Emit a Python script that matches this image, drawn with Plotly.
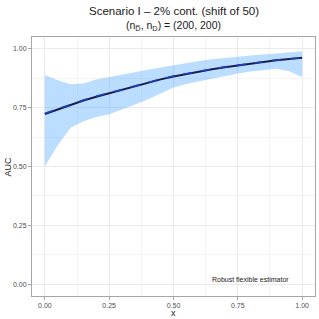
import plotly.graph_objects as go

x_vals = [0.0, 0.05, 0.1, 0.15, 0.2, 0.25, 0.3, 0.35, 0.4, 0.45, 0.5,
          0.55, 0.6, 0.65, 0.7, 0.75, 0.8, 0.85, 0.9, 0.95, 1.0]
auc_mean = [0.723, 0.743, 0.762, 0.780, 0.796, 0.811, 0.827, 0.842, 0.856, 0.870, 0.882,
            0.893, 0.903, 0.913, 0.922, 0.930, 0.938, 0.945, 0.951, 0.957, 0.962]
auc_true = [0.725, 0.745, 0.764, 0.782, 0.798, 0.813, 0.829, 0.844, 0.858, 0.871, 0.884,
            0.895, 0.905, 0.914, 0.923, 0.931, 0.939, 0.946, 0.952, 0.957, 0.962]
band_lower = [0.500, 0.590, 0.665, 0.692, 0.710, 0.722, 0.742, 0.762, 0.785, 0.810, 0.835,
              0.850, 0.862, 0.874, 0.884, 0.895, 0.904, 0.911, 0.915, 0.905, 0.880]
band_upper = [0.889, 0.866, 0.849, 0.853, 0.870, 0.881, 0.892, 0.902, 0.911, 0.920, 0.930,
              0.940, 0.948, 0.955, 0.962, 0.966, 0.971, 0.975, 0.979, 0.984, 0.990]
tick_vals = [0.0, 0.25, 0.5, 0.75, 1.0]
tick_text = ["0.00", "0.25", "0.50", "0.75", "1.00"]

font = "Liberation Sans, Arial, sans-serif"

fig = go.Figure()
fig.add_trace(go.Scatter(x=x_vals, y=band_lower, mode="lines", line=dict(width=0),
                         showlegend=False, hoverinfo="skip"))
fig.add_trace(go.Scatter(x=x_vals, y=band_upper, mode="lines", line=dict(width=0),
                         fill="tonexty", fillcolor="rgba(30,144,255,0.3)",
                         showlegend=False, hoverinfo="skip"))
fig.add_trace(go.Scatter(x=x_vals, y=auc_mean, mode="lines",
                         line=dict(color="#1a1f4a", width=2), showlegend=False))
fig.add_trace(go.Scatter(x=x_vals, y=auc_true, mode="lines",
                         line=dict(color="#1f3fbf", width=1.6, dash="dash"), showlegend=False))

fig.add_annotation(x=0.80, y=0.02, xref="x", yref="y", text="Robust flexible estimator",
                   showarrow=False, font=dict(family=font, size=7, color="#1a1a1a"))
fig.add_annotation(x=0.5, y=1.0, xref="paper", yref="paper", yanchor="middle",
                   text="Scenario I – 2% cont. (shift of 50)", yshift=26,
                   showarrow=False, font=dict(family=font, size=11.5, color="#1a1a1a"))
fig.add_annotation(x=0.5, y=1.0, xref="paper", yref="paper", yanchor="middle",
                   text="(n<sub>D̅</sub>, n<sub>D</sub>) = (200, 200)", yshift=11,
                   showarrow=False, font=dict(family=font, size=10.5, color="#1a1a1a"))
fig.add_annotation(x=0.5, y=0.0, xref="paper", yref="paper", yanchor="middle",
                   text="x", yshift=-17, showarrow=False,
                   font=dict(family=font, size=9, color="#1a1a1a"))
fig.add_annotation(x=0.0, y=0.5, xref="paper", yref="paper", xanchor="center",
                   text="AUC", xshift=-25, textangle=-90, showarrow=False,
                   font=dict(family=font, size=9, color="#1a1a1a"))

axis_common = dict(range=[-0.05, 1.05], tickvals=tick_vals, ticktext=tick_text,
                   showgrid=True, gridcolor="#ebebeb", gridwidth=0.8,
                   minor=dict(tickvals=[0.125, 0.375, 0.625, 0.875], showgrid=True,
                              gridcolor="#f4f4f4", gridwidth=0.5),
                   zeroline=False, showline=True, linecolor="#a6a6a6", linewidth=1, mirror=True,
                   ticks="outside", ticklen=3, tickcolor="#a6a6a6", automargin=False,
                   tickfont=dict(family=font, size=7, color="#4d4d4d"))

fig.update_layout(
    width=319, height=319,
    margin=dict(l=32, r=4, t=37, b=23),
    paper_bgcolor="white", plot_bgcolor="white",
    xaxis=dict(**axis_common),
    yaxis=dict(**axis_common),
)

fig.write_html("out.html", config={"displayModeBar": False},
               post_script="document.body.style.margin='0';")
